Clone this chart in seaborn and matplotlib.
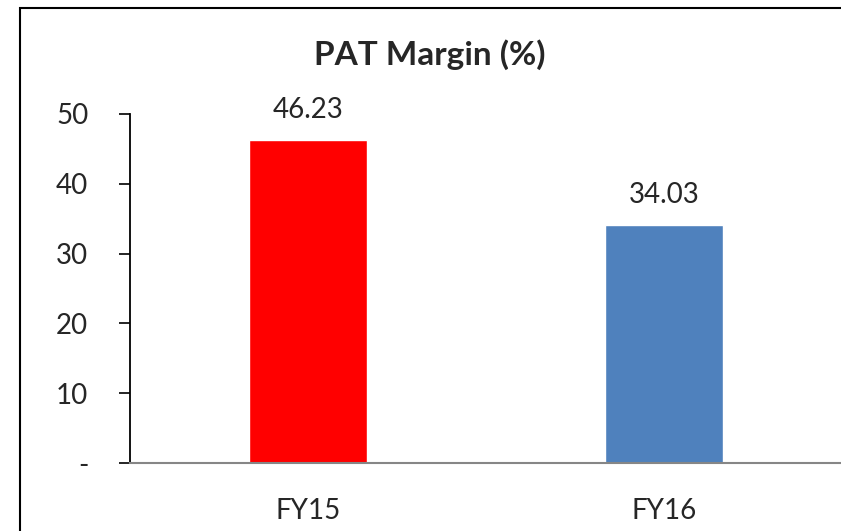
import matplotlib
matplotlib.use("Agg")
import matplotlib.pyplot as plt
import seaborn as sns
from matplotlib.patches import Rectangle

# data
years = ["FY15", "FY16"]
pat_margin = [46.23, 34.03]
bar_colors = ["#FF0000", "#4F81BD"]
y_ticks = [0, 10, 20, 30, 40, 50]
y_labels = ["-", "10", "20", "30", "40", "50"]

sns.set_style("white")
plt.rcParams["font.family"] = ["Lato", "DejaVu Sans"]
fs = 20

fig = plt.figure(figsize=(8.41, 5.31), dpi=100)
ax = fig.add_axes([130 / 841, 68 / 531, 712 / 841, (463 - 114) / 531])

sns.barplot(x=years, y=pat_margin, hue=years, palette=bar_colors,
            width=0.334, legend=False, ax=ax, saturation=1)

ax.set_xlim(-0.5, 1.5)
ax.set_ylim(0, 50)
ax.set_yticks(y_ticks)
ax.set_yticklabels(y_labels, fontsize=fs)
ax.set_xticks(range(len(years)))
ax.set_xticklabels(years, fontsize=fs)
ax.set_xticks([-0.5, 0.5, 1.5], minor=True)
ax.tick_params(axis="x", which="major", length=0, pad=25)
ax.tick_params(axis="x", which="minor", length=8, width=1.2,
               color="#868686", direction="out")
ax.tick_params(axis="y", length=8, width=1.2, color="black",
               direction="out", pad=22, left=True)

for s in ["top", "right"]:
    ax.spines[s].set_visible(False)
ax.spines["left"].set_color("black")
ax.spines["left"].set_linewidth(1.3)
ax.spines["bottom"].set_color("#868686")
ax.spines["bottom"].set_linewidth(1.5)

for i, v in enumerate(pat_margin):
    ax.annotate(f"{v:.2f}", (i, v), xytext=(0, 16), textcoords="offset points",
                ha="center", va="baseline", fontsize=fs)

ax.set_xlabel("")
ax.set_ylabel("")
fig.text(430 / 841, 1 - 65 / 531, "PAT Margin (%)", ha="center", va="baseline",
         fontsize=24, fontweight="bold")

# chart border
fig.patches.append(Rectangle((20 / 841, -0.2), 1.2, 1.2 - 8 / 531,
                             transform=fig.transFigure, fill=False,
                             edgecolor="black", linewidth=1.5, clip_on=False))

fig.savefig("out.png", dpi=100)
